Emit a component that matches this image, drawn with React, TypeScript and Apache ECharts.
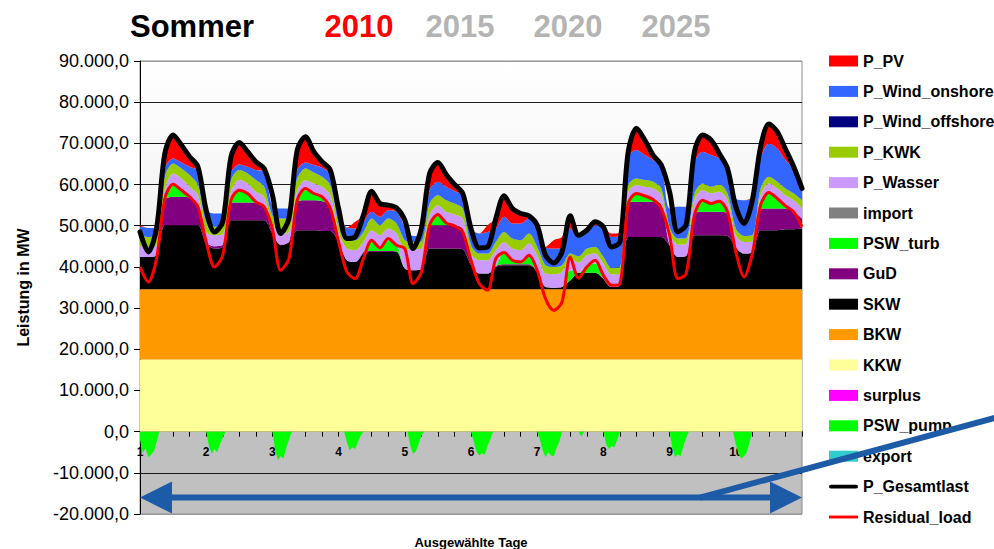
import React, { useEffect, useRef } from 'react';
import * as echarts from 'echarts';

// hourly category axis of the ten selected days (0..240 h)
const hourCats: string[] = Array.from({ length: 241 }, (_, i) => String(i));
// sample positions (hours) of the generation series, every 3 hours
const hours: number[] = Array.from({ length: 81 }, (_, i) => i * 3);
const dayLabels = ['1', '2', '3', '4', '5', '6', '7', '8', '9', '10'];
const yTicks = [-20000, -10000, 0, 10000, 20000, 30000, 40000, 50000, 60000, 70000, 80000, 90000];

// MW values (3-hourly)
const kkw = [
  17500, 17500, 17500, 17500, 17500, 17500, 17500, 17500,
  17500, 17500, 17500, 17500, 17500, 17500, 17500, 17500,
  17500, 17500, 17500, 17500, 17500, 17500, 17500, 17500,
  17500, 17500, 17500, 17500, 17500, 17500, 17500, 17500,
  17500, 17500, 17500, 17500, 17500, 17500, 17500, 17500,
  17500, 17500, 17500, 17500, 17500, 17500, 17500, 17500,
  17500, 17500, 17500, 17500, 17500, 17500, 17500, 17500,
  17500, 17500, 17500, 17500, 17500, 17500, 17500, 17500,
  17500, 17500, 17500, 17500, 17500, 17500, 17500, 17500,
  17500, 17500, 17500, 17500, 17500, 17500, 17500, 17500,
  17500];
const bkw = [
  17050, 17050, 17050, 17050, 17050, 17050, 17050, 17050,
  17050, 17050, 17050, 17050, 17050, 17050, 17050, 17050,
  17050, 17050, 17050, 17050, 17050, 17050, 17050, 17050,
  17050, 17050, 17050, 17050, 17050, 17050, 17050, 17050,
  17050, 17050, 17050, 17050, 17050, 17050, 17050, 17050,
  17050, 17050, 17050, 17050, 17050, 17050, 17050, 17050,
  17050, 17050, 17050, 17050, 17050, 17050, 17050, 17050,
  17050, 17050, 17050, 17050, 17050, 17050, 17050, 17050,
  17050, 17050, 17050, 17050, 17050, 17050, 17050, 17050,
  17050, 17050, 17050, 17050, 17050, 17050, 17050, 17050,
  17050];
const skw = [
  7870, 7870, 8280, 15580, 15580, 15580, 15580, 15580,
  11120, 9900, 10310, 16800, 16800, 16800, 16800, 16800,
  13550, 10710, 11520, 14360, 14360, 14360, 14200, 14200,
  11520, 7060, 6660, 8680, 9090, 9090, 9090, 9090,
  5040, 4630, 4870, 9900, 9900, 9900, 9900, 9740,
  5850, 3820, 3820, 5440, 5850, 5850, 5850, 5850,
  4220, 580, 410, 580, 2200, 4060, 4060, 4060,
  2600, 580, 980, 12740, 12740, 12740, 12740, 12740,
  10710, 7870, 8120, 13150, 13150, 13150, 13150, 12980,
  10310, 8680, 9090, 14360, 14360, 14360, 14600, 14600,
  14770];
const gud = [
  0, 0, 0, 6080, 6890, 6890, 6650, 4870,
  400, 570, 570, 4300, 4300, 4300, 4300, 3650,
  400, 160, 0, 6890, 7300, 7300, 7220, 6240,
  160, 0, 0, 400, 240, 240, 240, 160,
  0, 0, 0, 5680, 5680, 5680, 5680, 5030,
  400, 0, 0, 240, 240, 240, 240, 240,
  0, 0, 0, 0, 0, 0, 0, 0,
  0, 0, 0, 8520, 8520, 8520, 8520, 7870,
  0, 0, 0, 5680, 5680, 5680, 5680, 5430,
  0, 0, 0, 5270, 5270, 5270, 5030, 4380,
  2430];
const pswTurb = [
  0, 0, 0, 0, 3240, 1870, 0, 0,
  0, 0, 0, 0, 3000, 2190, 0, 0,
  0, 0, 0, 0, 2430, 2030, 650, 0,
  0, 0, 0, 0, 2600, 970, 2600, 1870,
  0, 0, 0, 0, 2430, 400, 0, 0,
  0, 0, 0, 0, 3000, 1380, 730, 2190,
  0, 0, 0, 0, 2430, 0, 1780, 2190,
  0, 0, 0, 0, 2030, 1620, 810, 0,
  0, 0, 0, 0, 2840, 2030, 2430, 810,
  0, 0, 0, 0, 3650, 2030, 400, 0,
  0];
const wasser = [
  2680, 2430, 2430, 2680, 2430, 2600, 2680, 2430,
  2430, 2680, 2430, 2600, 2430, 2430, 2600, 2030,
  2000, 2680, 2430, 2840, 2430, 2030, 2840, 2430,
  2270, 2840, 2840, 2430, 2430, 2840, 2840, 2430,
  4700, 5110, 5030, 2430, 2430, 2840, 2600, 2430,
  2430, 3240, 3240, 3810, 2430, 2430, 2680, 2840,
  4060, 3240, 3240, 3650, 2840, 2430, 2430, 2430,
  3650, 3000, 2840, 2270, 2030, 2030, 2430, 2270,
  2840, 3000, 2920, 2840, 2430, 2430, 2430, 2430,
  2840, 2840, 2600, 3240, 2430, 2840, 2840, 2680,
  2430];
const kwk = [
  2600, 2430, 2430, 3000, 2430, 2430, 2840, 2430,
  2270, 2030, 2270, 2840, 2430, 2430, 2840, 2430,
  2030, 3650, 3240, 2840, 2840, 2680, 2430, 2430,
  2030, 2270, 2430, 2430, 2840, 2430, 2430, 2430,
  2190, 1780, 1780, 2840, 2430, 2840, 2680, 2430,
  2030, 1620, 1620, 2030, 2430, 2430, 2430, 2430,
  2030, 2030, 1780, 1620, 1220, 1540, 1620, 1620,
  1620, 1620, 1620, 1780, 1620, 1620, 1620, 1620,
  1620, 1460, 1460, 1620, 1620, 1620, 1780, 1620,
  1620, 1460, 1460, 1620, 1620, 1620, 1620, 1620,
  2030];
const windOnshore = [
  2030, 2190, 2030, 2030, 1220, 1460, 2030, 3460,
  3000, 3240, 2840, 1870, 1380, 1620, 2430, 3660,
  2200, 2430, 2430, 2030, 1460, 1780, 2190, 2650,
  3650, 2760, 2840, 2430, 1620, 2030, 2030, 2910,
  3240, 1460, 1460, 3240, 3240, 3240, 3000, 3050,
  4040, 4870, 5270, 3240, 3650, 3650, 4060, 3650,
  4460, 4460, 4460, 4060, 6080, 4700, 4060, 5270,
  7300, 7540, 7700, 6890, 6890, 6080, 5270, 5080,
  4460, 7700, 7540, 7700, 7700, 7700, 6330, 6080,
  7300, 8680, 8920, 7300, 8110, 8110, 6890, 5890,
  3650];
const pv = [
  300, 0, 0, 3650, 5680, 4220, 2430, 1000,
  0, 0, 0, 3810, 5350, 3650, 2030, 800,
  0, 0, 0, 4870, 6240, 3240, 1460, 1000,
  0, 0, 1620, 1620, 5030, 3240, 1220, 900,
  0, 0, 0, 4060, 4700, 3000, 1620, 600,
  0, 0, 1620, 2430, 5110, 3650, 2430, 650,
  0, 0, 2030, 2840, 3080, 400, 0, 800,
  0, 800, 800, 1220, 5270, 3650, 1220, 600,
  0, 0, 0, 2430, 4060, 3650, 1220, 0,
  0, 0, 400, 2840, 4700, 4060, 2680, 600,
  0];
const gesamtlast = [
  48500, 43640, 49320, 67560, 72020, 69590, 66750, 64320,
  53780, 48500, 50940, 66750, 70240, 67970, 65540, 63910,
  57500, 48100, 51750, 68380, 71620, 67970, 65540, 63510,
  54180, 46880, 47290, 52560, 58400, 55400, 54990, 54350,
  51350, 44450, 49320, 62700, 65380, 62450, 60020, 57830,
  49320, 44610, 44860, 51750, 57260, 54180, 52970, 52400,
  50130, 42830, 40960, 43640, 52400, 47690, 48910, 50940,
  49720, 44860, 46070, 67970, 73650, 70810, 67160, 64730,
  58240, 48500, 50290, 67970, 72020, 70810, 67560, 63910,
  54590, 50530, 56210, 69190, 74700, 72840, 68620, 64320,
  59050];
const residualLoad = [
  39990, 36340, 42020, 56620, 60100, 58640, 57020, 54590,
  46070, 39990, 42830, 56210, 58640, 57830, 55800, 54590,
  49320, 39180, 42020, 56210, 59050, 57830, 57020, 54180,
  46070, 38770, 37150, 42020, 46480, 44610, 46880, 45260,
  44450, 35940, 38770, 50130, 52720, 50690, 49970, 48500,
  41610, 35940, 34310, 42020, 43480, 41610, 41210, 42830,
  39180, 32290, 29450, 31470, 42420, 37310, 39990, 41610,
  37960, 35520, 35940, 55400, 57830, 57260, 56370, 54180,
  47690, 37150, 38370, 52560, 56210, 55400, 55970, 53370,
  43640, 37560, 43230, 54990, 58080, 56620, 54830, 53370,
  49720];
// pumping (negative), hourly around the night spikes
const pumpHours = [
  0, 1, 2, 3, 4, 5, 6, 7,
  24, 25, 26, 27, 28, 29, 30, 31,
  48, 49, 50, 51, 52, 53, 54, 55,
  74, 75, 76, 77, 78, 79, 80, 81,
  97, 98, 99, 100, 101, 102, 103,
  120, 121, 122, 123, 124, 125, 126, 127, 128,
  144, 145, 146, 147, 148, 149, 150, 151, 152, 153,
  159, 160, 161,
  168, 169, 170, 171, 172, 173, 174,
  192, 193, 194, 195, 196, 197, 198, 199,
  215, 216, 217, 218, 219, 220, 221, 222,
  240];
const pumpMW = [
  -2000, -5200, -4000, -6200, -5600, -4800, -2500, 0,
  0, -3500, -5400, -4200, -5000, -3000, -1500, 0,
  0, -4500, -6900, -6000, -6500, -4000, -2000, 0,
  0, -2500, -4600, -3800, -4200, -2500, -1000, 0,
  0, -3500, -5400, -4800, -3000, -1000, 0,
  0, -2500, -4800, -5800, -5200, -5600, -3500, -2000, 0,
  0, -2000, -4500, -6200, -5000, -5800, -6000, -4000, -2500, 0,
  0, -1200, 0,
  0, -3000, -4200, -3500, -3800, -2000, 0,
  0, -4000, -6200, -5500, -6000, -3500, -1500, 0,
  0, -3000, -5500, -6500, -6000, -5000, -2500, 0,
  0];

const FONT = '"Liberation Sans", Arial, sans-serif';
const Y_MIN = -20000;
const Y_MAX = 90000;
const GRID_TOP = 61;
const GRID_BOTTOM = 35;
const CHART_H = 549;
// offset that puts the category axis on the zero line
const zeroOffset = -((CHART_H - GRID_TOP - GRID_BOTTOM) * (0 - Y_MIN)) / (Y_MAX - Y_MIN);

const fmtDe = (v: number) => {
  const s = Math.abs(Math.round(v)).toString().replace(/\B(?=(\d{3})+(?!\d))/g, '.');
  return (v < 0 ? '-' : '') + s + ',0';
};

const pairs = (arr: number[]) => hours.map((h, i) => [h, arr[i]]);

const stackArea = (name: string, color: string, arr: number[]) => ({
  name,
  type: 'line',
  stack: 'gen',
  data: pairs(arr),
  smooth: 0.3,
  symbol: 'none',
  showSymbol: false,
  color,
  itemStyle: { color },
  lineStyle: { width: 0, color },
  areaStyle: { color, opacity: 1 },
  z: 2,
});
const emptyArea = (name: string, color: string) => ({
  name,
  type: 'line',
  data: [],
  symbol: 'none',
  color,
  itemStyle: { color },
  lineStyle: { width: 0, color },
  areaStyle: { color, opacity: 1 },
});

const legendNames = [
  'P_PV', 'P_Wind_onshore', 'P_Wind_offshore', 'P_KWK', 'P_Wasser', 'import', 'PSW_turb', 'GuD',
  'SKW', 'BKW', 'KKW', 'surplus', 'PSW_pump', 'export', 'P_Gesamtlast', 'Residual_load',
];
const legendIcon = (n: string) => {
  if (n === 'P_Gesamtlast') return 'path://M2,0 H28 A2,2 0 0 1 28,4 H2 A2,2 0 0 1 2,0 Z';
  if (n === 'Residual_load') return 'path://M0,0 H30 V3 H0 Z';
  return 'rect';
};

const gridColors = yTicks.map((t) => (t === 90000 || t === -20000 ? '#9a9a9a' : '#1a1a1a'));

const option: any = {
  animation: false,
  textStyle: { fontFamily: FONT },
  grid: {
    left: 140, right: 192, top: GRID_TOP, bottom: GRID_BOTTOM, show: true,
    containLabel: false, outerBoundsMode: 'none',
    borderColor: '#8c8c8c', borderWidth: 1,
    backgroundColor: {
      type: 'linear', x: 0, y: 0, x2: 0, y2: 1,
      colorStops: [
        { offset: 0, color: '#ffffff' },
        { offset: 0.818, color: '#e3e3e3' },
        { offset: 0.8182, color: '#c0c0c0' },
        { offset: 1, color: '#c0c0c0' },
      ],
    },
  },
  legend: {
    orient: 'vertical', left: 824, top: 48, itemWidth: 29, itemHeight: 11, itemGap: 14.4,
    selectedMode: false, symbolKeepAspect: true,
    textStyle: { fontSize: 16, fontWeight: 'bold', color: '#000', fontFamily: FONT, lineHeight: 16 },
    data: legendNames.map((n) => ({ name: n, icon: legendIcon(n) })),
  },
  xAxis: {
    type: 'category', data: hourCats, boundaryGap: false, position: 'bottom', offset: zeroOffset,
    axisLine: { show: true, onZero: false, lineStyle: { color: '#000', width: 1 } },
    axisTick: { show: true, length: 5, interval: (i: number) => i % 6 === 0, lineStyle: { color: '#000' } },
    axisLabel: {
      interval: (i: number) => i % 24 === 0 && i < 240,
      formatter: (_v: string, i: number) => dayLabels[Math.floor(i / 24)] ?? '',
      fontWeight: 'bold', fontSize: 12, color: '#000', margin: 14, fontFamily: FONT,
    },
    splitLine: { show: false },
    name: 'Ausgewählte Tage', nameLocation: 'middle', nameGap: 104,
    nameTextStyle: { fontWeight: 'bold', fontSize: 13, color: '#000', fontFamily: FONT },
  },
  yAxis: {
    type: 'value', min: Y_MIN, max: Y_MAX, interval: 10000,
    axisLine: { show: true, onZero: false, lineStyle: { color: '#000' } },
    axisTick: { show: true, length: 6, lineStyle: { color: '#000' } },
    axisLabel: { formatter: fmtDe, fontSize: 18, color: '#000', margin: 11, fontFamily: FONT },
    splitLine: { show: true, lineStyle: { color: gridColors, width: 1 } },
    name: 'Leistung in MW', nameLocation: 'middle', nameGap: 109, nameRotate: 90,
    nameTextStyle: { fontWeight: 'bold', fontSize: 16, color: '#000', fontFamily: FONT },
  },
  series: [
    stackArea('KKW', '#ffff99', kkw),
    stackArea('BKW', '#ff9900', bkw),
    stackArea('SKW', '#000000', skw),
    stackArea('GuD', '#800080', gud),
    stackArea('PSW_turb', '#00ff00', pswTurb),
    emptyArea('import', '#808080'),
    stackArea('P_Wasser', '#cc99ff', wasser),
    stackArea('P_KWK', '#99cc00', kwk),
    emptyArea('P_Wind_offshore', '#000080'),
    stackArea('P_Wind_onshore', '#3366ff', windOnshore),
    stackArea('P_PV', '#ff0000', pv),
    emptyArea('surplus', '#ff00ff'),
    {
      name: 'PSW_pump', type: 'line', data: pumpHours.map((h, i) => [h, pumpMW[i]]),
      symbol: 'none', color: '#00ff00', itemStyle: { color: '#00ff00' },
      lineStyle: { width: 0, color: '#00ff00' }, areaStyle: { color: '#00ff00', opacity: 1 }, z: 2,
    },
    emptyArea('export', '#33cccc'),
    {
      name: 'P_Gesamtlast', type: 'line', data: pairs(gesamtlast), smooth: 0.3, symbol: 'none',
      color: '#000', itemStyle: { color: '#000' },
      lineStyle: { color: '#000', width: 5, cap: 'round', join: 'round' }, z: 4,
    },
    {
      name: 'Residual_load', type: 'line', data: pairs(residualLoad), smooth: 0.3, symbol: 'none',
      color: '#ff0000', itemStyle: { color: '#ff0000' },
      lineStyle: { color: '#ff0000', width: 3, join: 'round' }, z: 5,
    },
  ],
};

export default function App() {
  const ref = useRef<HTMLDivElement>(null);
  useEffect(() => {
    const el = ref.current;
    if (!el) return;
    const chart = echarts.init(el, undefined, { renderer: 'svg' });
    chart.setOption(option);
    const a = chart.convertToPixel({ gridIndex: 0 }, [0, -16000]) as number[];
    const b = chart.convertToPixel({ gridIndex: 0 }, [240, -16000]) as number[];
    const c = chart.convertToPixel({ gridIndex: 0 }, [203, -16000]) as number[];
    const blue = '#1d5ba6';
    const head = 32;
    const half = 16;
    const titleFont = { fontSize: 31, fontWeight: 'bold', fontFamily: FONT } as any;
    chart.setOption({
      graphic: [
        { id: 't0', type: 'text', x: 192, y: 26, style: { ...titleFont, text: 'Sommer', fill: '#000', textAlign: 'center', textVerticalAlign: 'middle' } },
        { id: 't1', type: 'text', x: 359, y: 26, style: { ...titleFont, text: '2010', fill: '#ff0000', textAlign: 'center', textVerticalAlign: 'middle' } },
        { id: 't2', type: 'text', x: 460, y: 26, style: { ...titleFont, text: '2015', fill: '#b4b4b4', textAlign: 'center', textVerticalAlign: 'middle' } },
        { id: 't3', type: 'text', x: 568, y: 26, style: { ...titleFont, text: '2020', fill: '#b4b4b4', textAlign: 'center', textVerticalAlign: 'middle' } },
        { id: 't4', type: 'text', x: 676, y: 26, style: { ...titleFont, text: '2025', fill: '#b4b4b4', textAlign: 'center', textVerticalAlign: 'middle' } },
        { id: 'shaft', type: 'line', z: 50, shape: { x1: a[0] + head - 2, y1: a[1], x2: b[0] - head + 2, y2: b[1] }, style: { stroke: blue, lineWidth: 6 } },
        { id: 'hl', type: 'polygon', z: 50, shape: { points: [[a[0], a[1]], [a[0] + head, a[1] - half], [a[0] + head, a[1] + half]] }, style: { fill: blue } },
        { id: 'hr', type: 'polygon', z: 50, shape: { points: [[b[0], b[1]], [b[0] - head, b[1] - half], [b[0] - head, b[1] + half]] }, style: { fill: blue } },
        { id: 'diag', type: 'line', z: 50, shape: { x1: c[0], y1: c[1], x2: 1000, y2: c[1] - 81 }, style: { stroke: blue, lineWidth: 6 } },
      ],
    });
    return () => chart.dispose();
  }, []);
  return <div ref={ref} style={{ position: 'absolute', left: 0, top: 0, width: 994, height: 549 }} />;
}
